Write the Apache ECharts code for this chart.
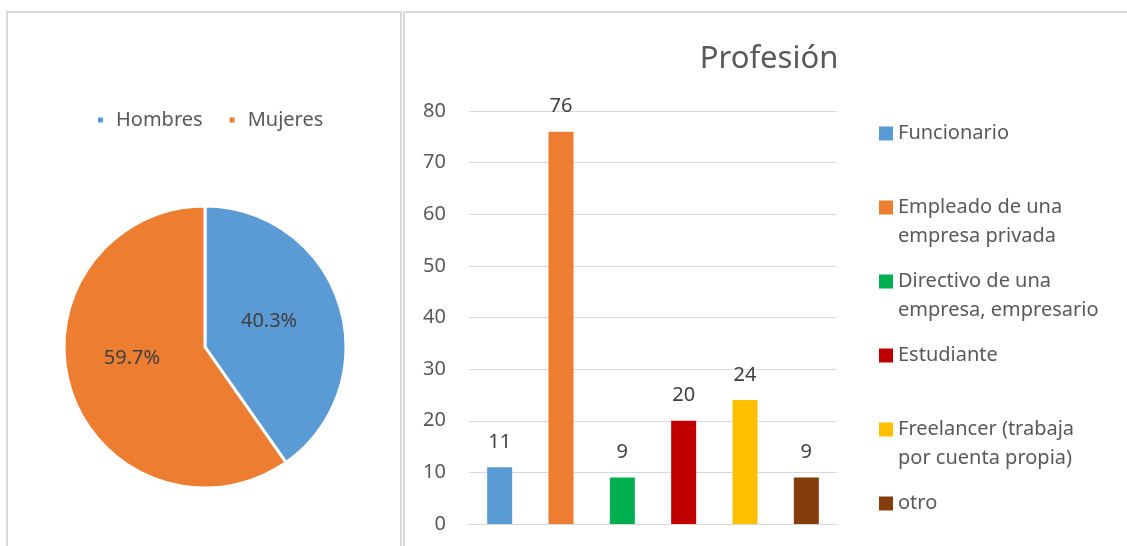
<!DOCTYPE html>
<html>
<head>
<meta charset="utf-8">
<script src="https://cdn.jsdelivr.net/npm/echarts@6/dist/echarts.min.js"></script>
<style>
  html, body { margin: 0; padding: 0; background: #fff; }
  #main { width: 1127px; height: 546px; }
</style>
</head>
<body>
<div id="main"></div>
<script>
// ---- data ----
const genderNames = ['Hombres', 'Mujeres'];
const genderCounts = [60, 89];
const genderColors = ['#5b9bd5', '#ed7d31'];

const profTitle = 'Profesión';
const profNames = [
  'Funcionario',
  'Empleado de una empresa privada',
  'Directivo de una empresa, empresario',
  'Estudiante',
  'Freelancer (trabaja por cuenta propia)',
  'otro'
];
const profLegendLines = [
  ['Funcionario'],
  ['Empleado de una', 'empresa privada'],
  ['Directivo de una', 'empresa, empresario'],
  ['Estudiante'],
  ['Freelancer (trabaja', 'por cuenta propia)'],
  ['otro']
];
const profValues = [11, 76, 9, 20, 24, 9];
const profColors = ['#5b9bd5', '#ed7d31', '#00b050', '#c00000', '#ffc000', '#843c0c'];
const yTicks = [0, 10, 20, 30, 40, 50, 60, 70, 80];

// ---- chart ----
const FONT = '"Noto Sans", sans-serif';
const chart = echarts.init(document.getElementById('main'));

const barSeries = profNames.map((name, i) => ({
  name: name,
  type: 'bar',
  stack: 'prof',
  barWidth: 25,
  itemStyle: { color: profColors[i] },
  label: {
    show: true,
    position: 'top',
    distance: 15,
    color: '#404040',
    fontSize: 20,
    fontFamily: FONT
  },
  data: profValues.map((v, j) => (j === i ? v : '-'))
}));

const legendTextMap = {};
profNames.forEach((n, i) => {
  const lines = profLegendLines[i];
  legendTextMap[n] = '\n' + lines.join('\n') + (lines.length === 1 ? '\n' : '');
});

// label nudges (style only) to mimic the original label placement
const pieLabelPadRight = [12, 6];
const pieLabelLift = [8, 22];

chart.setOption({
  animation: false,
  textStyle: { fontFamily: FONT },
  graphic: [
    { type: 'rect', shape: { x: 7, y: 12, width: 394, height: 600 },
      style: { fill: 'none', stroke: '#d9d9d9', lineWidth: 2 }, silent: true },
    { type: 'rect', shape: { x: 404, y: 12, width: 800, height: 600 },
      style: { fill: 'none', stroke: '#d9d9d9', lineWidth: 2 }, silent: true }
  ],
  title: {
    text: profTitle,
    left: 769,
    textAlign: 'center',
    top: 44,
    padding: 0,
    textStyle: { color: '#595959', fontSize: 31, fontWeight: 'normal', fontFamily: FONT }
  },
  legend: [
    {
      data: genderNames,
      left: 96,
      top: 110,
      padding: 0,
      orient: 'horizontal',
      icon: 'rect',
      itemWidth: 7,
      itemHeight: 7,
      itemGap: 25,
      textStyle: { color: '#595959', fontSize: 20, lineHeight: 20, padding: [0, 0, 0, 7], fontFamily: FONT }
    },
    {
      data: profNames,
      left: 879,
      top: 90,
      height: 520,
      padding: 0,
      orient: 'vertical',
      icon: 'rect',
      itemWidth: 14,
      itemHeight: 14,
      itemGap: -13,
      formatter: (n) => legendTextMap[n],
      textStyle: { color: '#595959', fontSize: 20, lineHeight: 29, fontFamily: FONT }
    }
  ],
  grid: { left: 469, right: 290, top: 111, bottom: 22, containLabel: false },
  xAxis: {
    type: 'category',
    data: profNames,
    axisLine: { show: true, lineStyle: { color: '#d9d9d9', width: 1 } },
    axisTick: { show: false },
    axisLabel: { show: false }
  },
  yAxis: {
    type: 'value',
    min: yTicks[0],
    max: yTicks[yTicks.length - 1],
    interval: yTicks[1] - yTicks[0],
    axisLine: { show: false },
    axisTick: { show: false },
    axisLabel: { color: '#595959', fontSize: 20, margin: 23, fontFamily: FONT },
    splitLine: { lineStyle: { color: '#d9d9d9', width: 1 } }
  },
  series: [
    {
      type: 'pie',
      name: 'Género',
      center: [205, 347],
      radius: 141,
      startAngle: 90,
      clockwise: true,
      percentPrecision: 1,
      itemStyle: { borderColor: '#ffffff', borderWidth: 3 },
      label: {
        show: true,
        position: 'inside',
        formatter: '{v|{d}%}\n{gap| }',
        fontFamily: FONT
      },
      labelLine: { show: false },
      emphasis: { disabled: true },
      data: genderNames.map((n, i) => ({
        name: n,
        value: genderCounts[i],
        itemStyle: { color: genderColors[i] },
        label: {
          padding: [0, pieLabelPadRight[i], 0, 0],
          rich: {
            v: { fontSize: 20, lineHeight: 22, color: '#404040', fontFamily: FONT },
            gap: { fontSize: 1, lineHeight: pieLabelLift[i] }
          }
        }
      }))
    }
  ].concat(barSeries)
});
</script>
</body>
</html>
